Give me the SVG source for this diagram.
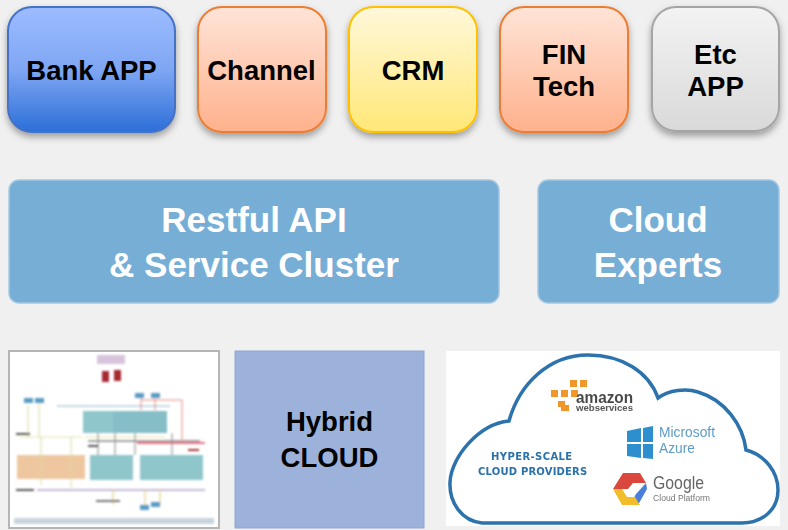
<svg xmlns="http://www.w3.org/2000/svg" width="788" height="530" viewBox="0 0 788 530">
<style>
.t{font-family:"Liberation Sans",Arial,sans-serif;font-weight:700;text-anchor:middle}
.k{font-size:27.5px;fill:#000}
.w{font-size:35px;fill:#fff}
.app{stroke-width:2}
.band{fill:#77aed6;stroke:#a4c8e2;stroke-width:1.5}
</style>
<defs>
<linearGradient id="gb" x1="0" y1="0" x2="0" y2="1"><stop offset="0" stop-color="#9dbcff"/><stop offset=".5" stop-color="#7fa6f3"/><stop offset="1" stop-color="#2c6fd8"/></linearGradient>
<linearGradient id="go" x1="0" y1="0" x2="0" y2="1"><stop offset="0" stop-color="#ffe4d8"/><stop offset="1" stop-color="#ffb18c"/></linearGradient>
<linearGradient id="gy" x1="0" y1="0" x2="0" y2="1"><stop offset="0" stop-color="#fff8da"/><stop offset="1" stop-color="#ffe877"/></linearGradient>
<linearGradient id="gg" x1="0" y1="0" x2="0" y2="1"><stop offset="0" stop-color="#f3f3f3"/><stop offset="1" stop-color="#d9d9d9"/></linearGradient>
<filter id="sh" x="-15%" y="-15%" width="130%" height="135%"><feDropShadow dx="0" dy="4" stdDeviation="3.5" flood-color="#000" flood-opacity=".35"/></filter>
<filter id="b1" x="-5%" y="-5%" width="110%" height="110%"><feGaussianBlur stdDeviation="1"/></filter>
<filter id="b2" x="-5%" y="-20%" width="110%" height="140%"><feGaussianBlur stdDeviation=".45"/></filter>
</defs>
<rect width="788" height="530" fill="#f0f0f0"/>
<g id="connectors"></g>
<g id="bank-app"><rect class="app" x="8" y="7" width="167" height="125" rx="24" fill="url(#gb)" stroke="#4472c4" filter="url(#sh)"/><text class="t k" x="91.500" y="79.500">Bank APP</text></g>
<g id="channel"><rect class="app" x="198" y="7" width="128" height="125" rx="24" fill="url(#go)" stroke="#ed7d31" filter="url(#sh)"/><text class="t k" x="261.500" y="79.500">Channel</text></g>
<g id="crm"><rect class="app" x="349" y="7" width="128" height="125" rx="24" fill="url(#gy)" stroke="#ffc000" filter="url(#sh)"/><text class="t k" x="413" y="79.500">CRM</text></g>
<g id="fin-tech"><rect class="app" x="500" y="7" width="128" height="125" rx="24" fill="url(#go)" stroke="#ed7d31" filter="url(#sh)"/><text class="t k" x="564" y="63.500">FIN</text><text class="t k" x="564" y="95.500">Tech</text></g>
<g id="etc-app"><rect class="app" x="652" y="7" width="127" height="124" rx="24" fill="url(#gg)" stroke="#a5a5a5" filter="url(#sh)"/><text class="t k" x="715.500" y="63.500">Etc</text><text class="t k" x="715.500" y="95.500">APP</text></g>
<g id="restful-api"><rect class="band" x="9" y="180" width="490" height="123" rx="10"/><text class="t w" x="254" y="232">Restful API</text><text class="t w" x="254" y="277">&amp; Service Cluster</text></g>
<g id="cloud-experts"><rect class="band" x="538" y="180" width="241" height="123" rx="10"/><text class="t w" x="658" y="232">Cloud</text><text class="t w" x="658" y="277">Experts</text></g>
<g id="architecture-thumbnail">
<rect x="9" y="351" width="210" height="177" fill="#fff" stroke="#b5b5b5" stroke-width="2"/>
<g filter="url(#b1)">
<rect x="97" y="355" width="28" height="9" fill="#d8c4dc"/>
<rect x="102" y="371" width="7" height="11" fill="#a52a30"/><rect x="114" y="370" width="7" height="11" fill="#a52a30"/>
<rect x="83" y="411" width="83" height="22" fill="#8fc6cc"/>
<rect x="113" y="411" width="54" height="22" fill="#85bec6"/>
<rect x="17" y="455" width="68" height="24" fill="#eec7a0"/>
<rect x="90" y="455" width="43" height="25" fill="#8fc6cc"/>
<rect x="140" y="455" width="63" height="25" fill="#8fc6cc"/>
<g fill="none" stroke-width="1">
<path d="M57 406H170" stroke="#8fb0c8"/>
<path d="M20 437H82M85 437H165" stroke="#e6e2a8"/>
<path d="M88 441H200" stroke="#444"/>
<path d="M137 443H205" stroke="#d84860" stroke-width="1.500"/>
<path d="M37 490H205" stroke="#8a70b0"/>
<path d="M28 405V437M39 402V437M41 437V485M71 437V488" stroke="#d8d8a0"/>
<path d="M141 395V410M155 395V410M141 400H182V441" stroke="#e08a80"/>
<path d="M98 433V455M115 433V455M135 433V455M172 433V455" stroke="#888"/>
<path d="M145 490V508M113 490V505M160 490V505" stroke="#d8c870"/>
</g>
<rect x="24" y="398" width="9" height="5" fill="#5a9cc4"/><rect x="35" y="398" width="9" height="5" fill="#5a9cc4"/>
<rect x="135" y="393" width="9" height="5" fill="#5a9cc4"/><rect x="151" y="393" width="9" height="5" fill="#5a9cc4"/>
<rect x="140" y="505" width="9" height="5" fill="#5a9cc4"/><rect x="151" y="502" width="9" height="5" fill="#5a9cc4"/>
<rect x="14" y="518" width="200" height="6" fill="#c8d4dc"/>
<rect x="16" y="433" width="14" height="2" fill="#555"/><rect x="16" y="489" width="18" height="2" fill="#555"/><rect x="96" y="500" width="24" height="2" fill="#777"/><rect x="88" y="445" width="10" height="2" fill="#555"/><rect x="188" y="449" width="11" height="2" fill="#a33"/>
</g>
</g>
<g id="hybrid-cloud"><rect x="235" y="351" width="189" height="177" fill="#9cb2da" stroke="#8ea6d2"/><text class="t k" x="329.500" y="431">Hybrid</text><text class="t k" x="329.500" y="467">CLOUD</text></g>
<g id="cloud-providers">
<rect x="446" y="351" width="334" height="175" fill="#fff"/>
<path d="M482 523C462 521 449 503 450 482C451 458 478 424 509 421C519 385 548 355 588 355C622 355 649 372 658 398C669 390 686 388 698 392C725 400 743 425 746 450C765 455 778 472 778 490C778 510 762 523 742 523Z" fill="#fff" stroke="#2c72ac" stroke-width="3.500"/>
<g filter="url(#b2)">
<g fill="#f0962a"><rect x="570" y="380" width="7" height="7"/><rect x="580" y="380" width="7" height="7"/><rect x="551" y="390" width="7" height="7"/><rect x="561" y="390" width="7" height="7"/><rect x="571" y="390" width="7" height="7"/><rect x="558" y="401" width="7" height="6" /><rect x="561" y="405" width="8" height="6"/></g>
<text x="576" y="403" font-family="'Liberation Sans',Arial,sans-serif" font-weight="700" font-size="17" fill="#4a4a4a" textLength="57" lengthAdjust="spacingAndGlyphs">amazon</text>
<text x="576" y="411" font-family="'Liberation Sans',Arial,sans-serif" font-weight="700" font-size="9.500" fill="#555" textLength="57" lengthAdjust="spacingAndGlyphs">webservices</text>
<path d="M627 431L641 428V442H627ZM643 428L653 426V442H643ZM627 444H641V458L627 456ZM643 444H653V453H653V452V452L653 453V453V453V453V453V453V453V453V453V453V453V453V453V453V453V453V453V453V453V453V453V453V453V453V453V453V453V453V453V453V453V453V453V453V453V453V453V453V453V453V453V453V453V453V453V453V453V453V453V453V453V453V453V453V453V453V453V453V453V453V453V453V453V453V453V453V453V453V453V453V453V453V453V453V453V453V453V453L653 459L643 458Z" fill="#2f8fcf"/>
<text x="659" y="437" font-family="'Liberation Sans',Arial,sans-serif" font-size="15" fill="#5d9cc8" textLength="56" lengthAdjust="spacingAndGlyphs">Microsoft</text>
<text x="659" y="453" font-family="'Liberation Sans',Arial,sans-serif" font-size="15" fill="#5d9cc8" textLength="36" lengthAdjust="spacingAndGlyphs">Azure</text>
<text x="491" y="460" font-family="'DejaVu Sans',sans-serif" font-weight="700" font-size="10" fill="#2c72ac" letter-spacing=".8" textLength="82">HYPER-SCALE</text>
<text x="478" y="475" font-family="'DejaVu Sans',sans-serif" font-weight="700" font-size="10" fill="#2c72ac" letter-spacing=".8" textLength="110">CLOUD PROVIDERS</text>
<path d="M613 489L623 473H640L646 483H633L628 489Z" fill="#d9473d"/>
<path d="M646 483L647 489L638 505H630L636 494Z" fill="#4a7fd8" />
<path d="M613 489L622 505H640L635 497H627L622 489Z" fill="#f2bd2b"/>
<text x="653" y="489" font-family="'Liberation Sans',Arial,sans-serif" font-size="18" fill="#666" textLength="51" lengthAdjust="spacingAndGlyphs">Google</text>
<text x="653" y="501" font-family="'Liberation Sans',Arial,sans-serif" font-size="9.500" fill="#777" textLength="57" lengthAdjust="spacingAndGlyphs">Cloud Platform</text>
</g>
</g>
</svg>
